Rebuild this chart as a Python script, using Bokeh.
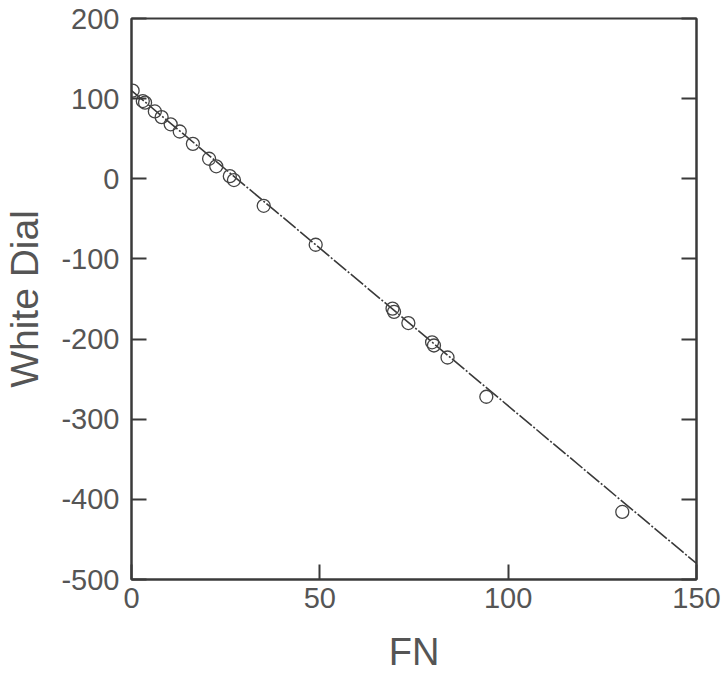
from bokeh.plotting import figure
from bokeh.models import LinearAxis, FixedTicker, Range1d, PrintfTickFormatter
from bokeh.embed import file_html
from bokeh.resources import INLINE

# Measured points (FN vs White Dial)
fn = [0.3, 3.0, 3.6, 6.2, 8.0, 10.4, 12.8, 16.3, 20.6, 22.5, 26.1, 27.2, 35.1,
      48.9, 69.3, 69.7, 73.5, 79.8, 80.3, 83.9, 94.2, 130.3]
white_dial = [110, 97, 95, 84, 77, 68, 59, 43.6, 25, 15.6, 3.3, -1.6, -33.7,
              -82.3, -162, -166, -180, -204, -208, -223, -272, -415.7]

# Fitted line end points
fit_x = [0, 150]
fit_y = [110, -480]

x_ticks = [0, 50, 100, 150]
y_ticks = [-500, -400, -300, -200, -100, 0, 100, 200]

FONT = "Liberation Sans"
INK = "#3a3a3a"
TXT = "#555555"

p = figure(width=722, height=675, output_backend="svg", toolbar_location=None,
           x_range=Range1d(0, 150), y_range=Range1d(-500, 200))
p.min_border_left = 130
p.min_border_right = 26
p.min_border_top = 18
p.min_border_bottom = 95
p.background_fill_color = "white"
p.border_fill_color = "white"
p.grid.visible = False
p.outline_line_color = INK
p.outline_line_width = 2

p.line(fit_x, fit_y, line_color=INK, line_width=1.6, line_dash="16 2 2 2")
p.scatter(fn, white_dial, marker="circle", size=13, fill_color=None,
          line_color="#444444", line_width=1.3)

for ax in (p.xaxis[0], p.yaxis[0]):
    ax.major_tick_in = 15
    ax.major_tick_out = 0
    ax.minor_tick_line_color = None
    ax.axis_line_color = INK
    ax.axis_line_width = 2
    ax.major_tick_line_color = INK
    ax.major_tick_line_width = 2
    ax.major_label_text_font = FONT
    ax.major_label_text_font_size = "29px"
    ax.major_label_text_color = TXT
    ax.axis_label_text_font = FONT
    ax.axis_label_text_font_style = "normal"
    ax.axis_label_text_color = TXT
    ax.formatter = PrintfTickFormatter(format="%d")

p.xaxis[0].ticker = FixedTicker(ticks=x_ticks)
p.yaxis[0].ticker = FixedTicker(ticks=y_ticks)
p.xaxis[0].axis_label = "FN"
p.xaxis[0].axis_label_text_font_size = "38px"
p.xaxis[0].axis_label_standoff = 20
p.xaxis[0].major_label_standoff = 8
p.yaxis[0].axis_label = "White Dial"
p.yaxis[0].axis_label_text_font_size = "39px"
p.yaxis[0].axis_label_standoff = 12
p.yaxis[0].major_label_standoff = 12

right = LinearAxis(ticker=FixedTicker(ticks=y_ticks), major_label_text_font_size="0px",
                   major_tick_in=15, major_tick_out=0, minor_tick_line_color=None,
                   axis_line_color=INK, axis_line_width=2, major_label_standoff=0,
                   axis_label_standoff=0,
                   major_tick_line_color=INK, major_tick_line_width=2)
right.major_label_text_color = None
p.add_layout(right, "right")

open("out.html", "w").write(file_html(p, INLINE))
